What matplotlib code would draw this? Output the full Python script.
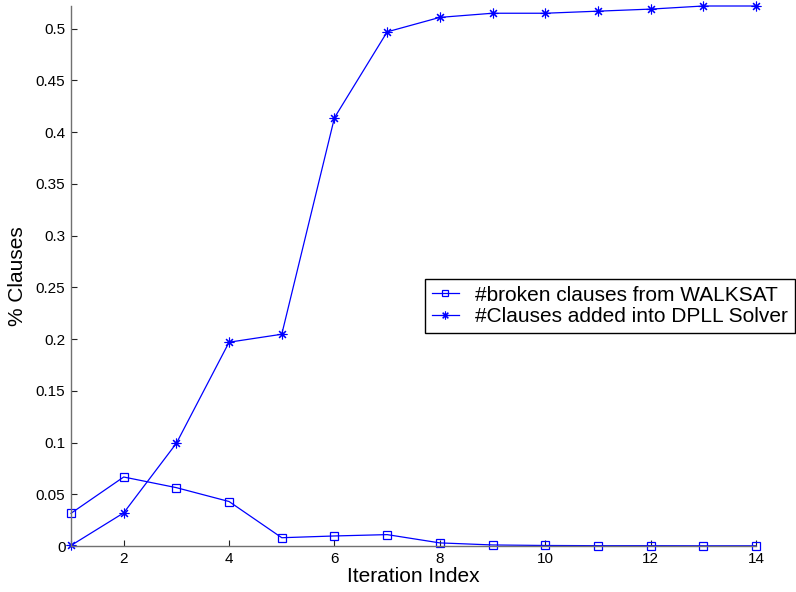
import matplotlib
matplotlib.use("Agg")
import matplotlib.pyplot as plt
from matplotlib.ticker import FuncFormatter

plt.rcParams['font.family'] = ['Liberation Sans', 'DejaVu Sans']

iterations = [1, 2, 3, 4, 5, 6, 7, 8, 9, 10, 11, 12, 13, 14]
broken_walksat = [0.0316, 0.0667, 0.0564, 0.043, 0.008, 0.0097, 0.011, 0.003, 0.001,
                  0.0005, 0.0003, 0.0003, 0.0002, 0.0002]
added_dpll = [0.0005, 0.032, 0.0993, 0.197, 0.2047, 0.414, 0.497, 0.511, 0.515,
              0.515, 0.517, 0.519, 0.522, 0.522]
x_ticks = [2, 4, 6, 8, 10, 12, 14]
y_ticks = [0, 0.05, 0.1, 0.15, 0.2, 0.25, 0.3, 0.35, 0.4, 0.45, 0.5]
labels = ['#broken clauses from WALKSAT', '#Clauses added into DPLL Solver']

fig = plt.figure(figsize=(7.96, 5.92), dpi=100)
W, H = 796, 592
left, right, top, bottom = 71, 756, 6, 546
ax = fig.add_axes([left / W, 1 - bottom / H, (right - left) / W, (bottom - top) / H])

ax.plot(iterations, broken_walksat, color='#0000ff', lw=0.9, marker='s', ms=6,
        mfc='none', mec='#0000ff', mew=0.9, clip_on=False, label=labels[0])
ax.plot(iterations, added_dpll, color='#0000ff', lw=0.9, marker=(8, 2, 0), ms=7,
        mec='#0000ff', mew=0.8, clip_on=False, label=labels[1])

ax.set_xlim(1, 14)
ax.set_ylim(0, max(added_dpll))
ax.set_xticks(x_ticks)
ax.set_yticks(y_ticks)
ax.yaxis.set_major_formatter(FuncFormatter(lambda v, p: f'{v:g}'))
for s in ['top', 'right']:
    ax.spines[s].set_visible(False)
for s in ['left', 'bottom']:
    ax.spines[s].set_color('#707070')
    ax.spines[s].set_linewidth(1.0)
ax.tick_params(direction='in', length=4.5, width=0.8, color='#222222',
               labelsize=11, pad=4)
ax.set_xlabel('Iteration Index', fontsize=15, labelpad=1)
ax.set_ylabel('% Clauses', fontsize=15, labelpad=6)

leg = fig.legend(loc='upper left', bbox_to_anchor=(425 / W, 1 - 279 / H),
                 bbox_transform=fig.transFigure, borderaxespad=0, fontsize=15,
                 fancybox=False, framealpha=1, edgecolor='black',
                 handlelength=1.3, handletextpad=0.8, labelspacing=0.12,
                 borderpad=0.32, markerscale=0.8)
leg.get_frame().set_linewidth(1.0)

fig.savefig('out.png', dpi=100)
